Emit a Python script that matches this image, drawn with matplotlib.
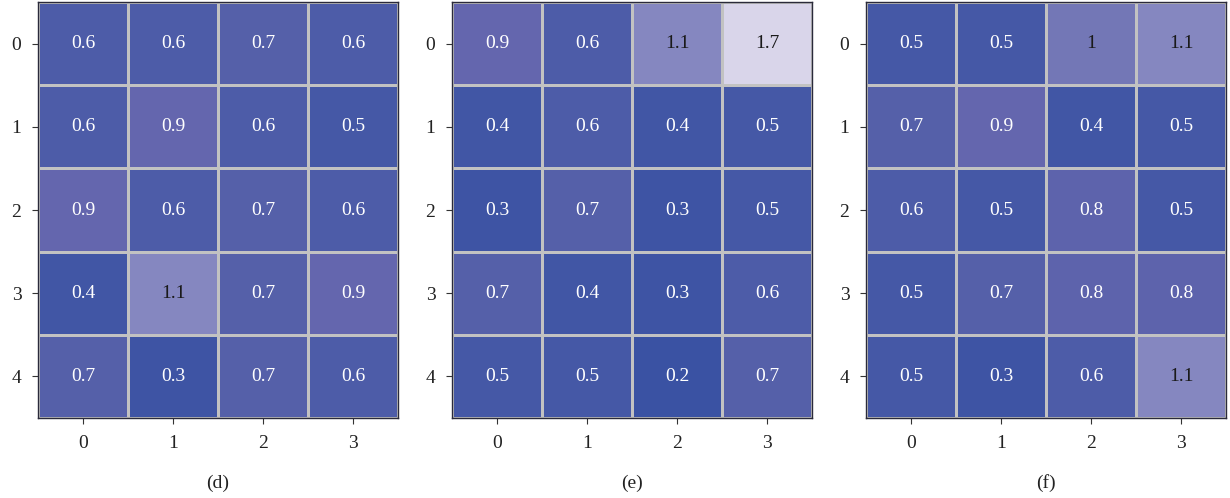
import numpy as np
import matplotlib
matplotlib.use("Agg")
import matplotlib.pyplot as plt
from matplotlib.colors import LinearSegmentedColormap, Normalize

plt.rcParams['font.family'] = ['Liberation Serif', 'DejaVu Serif']

ROWS = [0, 1, 2, 3, 4]
COLS = [0, 1, 2, 3]
PANEL_LABELS = ["(d)", "(e)", "(f)"]

values_d = [[0.6, 0.6, 0.7, 0.6],
            [0.6, 0.9, 0.6, 0.5],
            [0.9, 0.6, 0.7, 0.6],
            [0.4, 1.1, 0.7, 0.9],
            [0.7, 0.3, 0.7, 0.6]]
values_e = [[0.9, 0.6, 1.1, 1.7],
            [0.4, 0.6, 0.4, 0.5],
            [0.3, 0.7, 0.3, 0.5],
            [0.7, 0.4, 0.3, 0.6],
            [0.5, 0.5, 0.2, 0.7]]
values_f = [[0.5, 0.5, 1.0, 1.1],
            [0.7, 0.9, 0.4, 0.5],
            [0.6, 0.5, 0.8, 0.5],
            [0.5, 0.7, 0.8, 0.8],
            [0.5, 0.3, 0.6, 1.1]]

VMIN, VMAX = 0.2, 1.7
stops = [(0.2, "#3a52a3"), (0.5, "#4558a6"), (0.7, "#5560a9"),
         (0.9, "#6466ae"), (1.0, "#7377b6"), (1.1, "#8587c0"), (1.7, "#d9d5ea")]
cmap = LinearSegmentedColormap.from_list(
    "bluelav", [((v - VMIN) / (VMAX - VMIN), c) for v, c in stops])
norm = Normalize(VMIN, VMAX)

fig = plt.figure(figsize=(12.3, 4.98), dpi=100)
lefts = [38, 452, 866]
for left, vals, lab in zip(lefts, [values_d, values_e, values_f], PANEL_LABELS):
    ax = fig.add_axes([left / 1230, 80 / 498, 360 / 1230, 416 / 498])
    data = np.array(vals)
    ax.pcolormesh(np.arange(len(COLS) + 1) - 0.5, np.arange(len(ROWS) + 1) - 0.5,
                  data, cmap=cmap, norm=norm, edgecolors="#c2c2c2", linewidth=0.9)
    ax.set_xlim(-0.5, len(COLS) - 0.5)
    ax.set_ylim(len(ROWS) - 0.5, -0.5)
    for i in range(len(ROWS)):
        for j in range(len(COLS)):
            v = data[i, j]
            txt = "1" if v == 1.0 else "%.1f" % v
            ax.text(j, i, txt, ha="center", va="center", fontsize=14,
                    color="#1a1a1a" if v >= 0.95 else "white")
    ax.set_xticks(COLS)
    ax.set_yticks(ROWS)
    ax.set_xticklabels([str(c) for c in COLS])
    ax.set_yticklabels([str(r) for r in ROWS])
    ax.tick_params(length=4, width=0.8, color="#333333", labelsize=14,
                   labelcolor="#222222", pad=8)
    for s in ax.spines.values():
        s.set_color("#2a2a3a")
        s.set_linewidth(1.0)
    fig.text((left + 180) / 1230, 15 / 498, lab, ha="center", va="center",
             fontsize=14, color="#222222")

fig.savefig("out.png", dpi=100)
